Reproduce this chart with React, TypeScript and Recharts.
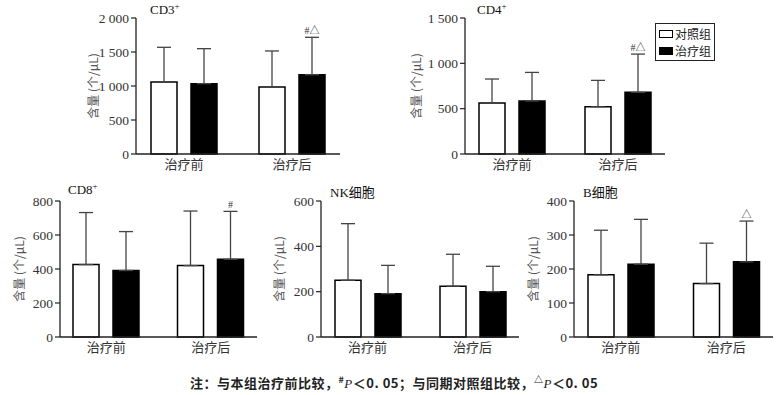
import React from "react";
import { BarChart, Bar, XAxis, YAxis, ErrorBar, LabelList, Legend } from "recharts";

const categories = ["治疗前", "治疗后"];

// mean and SD (upper error only)
const cd3Control = [1059, 985];
const cd3ControlSd = [510, 530];
const cd3Treat = [1034, 1166];
const cd3TreatSd = [515, 550];

const cd4Control = [562, 521];
const cd4ControlSd = [265, 291];
const cd4Treat = [584, 680];
const cd4TreatSd = [316, 422];

const cd8Control = [426, 420];
const cd8ControlSd = [306, 321];
const cd8Treat = [391, 457];
const cd8TreatSd = [229, 282];

const nkControl = [250, 224];
const nkControlSd = [250, 141];
const nkTreat = [191, 200];
const nkTreatSd = [125, 112];

const bControl = [183, 157];
const bControlSd = [131, 119];
const bTreat = [214, 221];
const bTreatSd = [132, 120];

const cd3Marks = ["", "#△"];
const cd4Marks = ["", "#△"];
const cd8Marks = ["", "#"];
const nkMarks = ["", ""];
const bMarks = ["", "△"];

const cd3Ticks = [0, 500, 1000, 1500, 2000];
const cd4Ticks = [0, 500, 1000, 1500];
const cd8Ticks = [0, 200, 400, 600, 800];
const nkTicks = [0, 200, 400, 600];
const bTicks = [0, 100, 200, 300, 400];

const SERIF = "Liberation Serif, Noto Sans CJK SC, serif";
const CJK = "Noto Sans CJK SC, Liberation Serif, serif";

const fmt = (n: number) =>
  n >= 1000 ? `${Math.floor(n / 1000)} ${String(n % 1000).padStart(3, "0")}` : String(n);

function buildRows(c: number[], cs: number[], t: number[], ts: number[], marks: string[]) {
  return categories.map((cat, i) => ({
    cat,
    control: c[i],
    controlErr: [0, cs[i]],
    treat: t[i],
    treatErr: [0, ts[i]],
    treatTop: t[i] + ts[i],
    mark: marks[i],
  }));
}

type PanelProps = {
  title: React.ReactNode;
  rows: ReturnType<typeof buildRows>;
  ticks: number[];
  left: number;
  top: number;
  width: number;
  margin: { top: number; right: number; bottom: number; left: number };
  labelGap: number;
  titleX: number;
  showLegend?: boolean;
};

function LegendBox() {
  const items = [
    { name: "对照组", fill: "#fff" },
    { name: "治疗组", fill: "#000" },
  ];
  return (
    <div
      style={{
        border: "1.3px solid #222",
        padding: "1px 3px 1px 3px",
        background: "#fff",
        fontFamily: CJK,
        fontSize: 12,
        color: "#222",
        lineHeight: "17px",
      }}
    >
      {items.map((it) => (
        <div key={it.name} style={{ display: "flex", alignItems: "center" }}>
          <span
            style={{
              display: "inline-block",
              width: 12,
              height: 6,
              border: "1.2px solid #000",
              background: it.fill,
              marginRight: 2,
            }}
          />
          {it.name}
        </div>
      ))}
    </div>
  );
}

function Panel(p: PanelProps) {
  const height = 180;
  return (
    <div style={{ position: "absolute", left: p.left, top: p.top, width: p.width, height }}>
      <div
        style={{
          position: "absolute",
          left: p.titleX,
          top: 2,
          fontFamily: SERIF,
          fontSize: 13,
          color: "#111",
          whiteSpace: "nowrap",
        }}
      >
        {p.title}
      </div>
      <BarChart
        width={p.width}
        height={height}
        data={p.rows}
        margin={p.margin}
        barSize={26}
        barGap={14}
      >
        <XAxis
          dataKey="cat"
          tickLine={false}
          axisLine={{ stroke: "#222", strokeWidth: 1.3 }}
          padding={{ left: -6, right: -6 }}
          tick={{ fontFamily: CJK, fontSize: 13, fill: "#333" }}
          tickSize={4}
          tickMargin={2}
          height={20}
        />
        <YAxis
          domain={[p.ticks[0], p.ticks[p.ticks.length - 1]]}
          ticks={p.ticks}
          interval={0}
          tickFormatter={fmt}
          width={40}
          tickSize={5}
          tickMargin={2}
          tickLine={{ stroke: "#222", strokeWidth: 1.2 }}
          axisLine={{ stroke: "#222", strokeWidth: 1.3 }}
          tick={{ fontFamily: SERIF, fontSize: 13.5, fill: "#333" }}
          label={{
            content: (props: any) => {
              const vb = props.viewBox;
              const cx = vb.x + vb.width - p.labelGap;
              const cy = vb.y + vb.height / 2;
              return (
                <text
                  x={cx}
                  y={cy}
                  transform={`rotate(-90, ${cx}, ${cy})`}
                  textAnchor="middle"
                  dominantBaseline="central"
                  fontFamily={CJK}
                  fontSize={12}
                  fill="#555"
                >
                  含量 (个/μL)
                </text>
              );
            },
          }}
        />
        {p.showLegend && (
          <Legend
            layout="horizontal"
            verticalAlign="middle"
            align="center"
            wrapperStyle={{ left: 265, top: 23, width: "auto" }}
            content={() => <LegendBox />}
          />
        )}
        <Bar
          dataKey="control"
          name="对照组"
          fill="#fff"
          stroke="#000"
          strokeWidth={1.5}
          isAnimationActive={false}
        >
          <ErrorBar dataKey="controlErr" width={7} stroke="#444" strokeWidth={1.3} direction="y" />
        </Bar>
        <Bar
          dataKey="treat"
          name="治疗组"
          fill="#000"
          stroke="#000"
          strokeWidth={1.5}
          isAnimationActive={false}
        >
          <ErrorBar dataKey="treatErr" width={7} stroke="#444" strokeWidth={1.3} direction="y" />
          <LabelList
            dataKey="mark"
            content={(lp: any) => {
              const row = p.rows[lp.index];
              if (!row || !row.mark) return null;
              const base = lp.y + lp.height;
              const top = base - (row.treatTop / row.treat) * lp.height;
              return (
                <text
                  x={lp.x + lp.width / 2}
                  y={top - 3}
                  textAnchor="middle"
                  fontFamily={SERIF}
                  fontSize={10}
                  fill="#333"
                >
                  {row.mark}
                </text>
              );
            }}
          />
        </Bar>
      </BarChart>
    </div>
  );
}

const sup = (s: string) => (
  <span style={{ fontSize: 9, verticalAlign: "super", lineHeight: 0 }}>{s}</span>
);

export default function App() {
  return (
    <div style={{ position: "absolute", left: 0, top: 0, width: 780, height: 395, background: "#fff" }}>
      <Panel
        title={<>CD3{sup("+")}</>}
        rows={buildRows(cd3Control, cd3ControlSd, cd3Treat, cd3TreatSd, cd3Marks)}
        ticks={cd3Ticks}
        left={0}
        top={0}
        width={390}
        margin={{ top: 18, right: 50, bottom: 6, left: 96 }}
        labelGap={44}
        titleX={150}
      />
      <Panel
        title={<>CD4{sup("+")}</>}
        rows={buildRows(cd4Control, cd4ControlSd, cd4Treat, cd4TreatSd, cd4Marks)}
        ticks={cd4Ticks}
        left={390}
        top={0}
        width={390}
        margin={{ top: 18, right: 115, bottom: 6, left: 35 }}
        labelGap={50}
        titleX={87}
        showLegend
      />
      <Panel
        title={<>CD8{sup("+")}</>}
        rows={buildRows(cd8Control, cd8ControlSd, cd8Treat, cd8TreatSd, cd8Marks)}
        ticks={cd8Ticks}
        left={0}
        top={180}
        width={270}
        margin={{ top: 21, right: 13, bottom: 3, left: 20 }}
        labelGap={42}
        titleX={68}
      />
      <Panel
        title="NK细胞"
        rows={buildRows(nkControl, nkControlSd, nkTreat, nkTreatSd, nkMarks)}
        ticks={nkTicks}
        left={270}
        top={180}
        width={250}
        margin={{ top: 21, right: 1, bottom: 3, left: 11 }}
        labelGap={43}
        titleX={60}
      />
      <Panel
        title="B细胞"
        rows={buildRows(bControl, bControlSd, bTreat, bTreatSd, bMarks)}
        ticks={bTicks}
        left={520}
        top={180}
        width={260}
        margin={{ top: 21, right: 7, bottom: 3, left: 14 }}
        labelGap={42}
        titleX={63}
      />
      <div
        style={{
          position: "absolute",
          left: 190,
          top: 373,
          fontFamily: CJK,
          fontWeight: "bold",
          fontSize: 13,
          letterSpacing: 0.5,
          color: "#222",
          whiteSpace: "nowrap",
        }}
      >
        注：与本组治疗前比较，{sup("#")}
        <i style={{ fontFamily: SERIF, fontWeight: "normal" }}>P</i>＜0. 05；与同期对照组比较，{sup("△")}
        <i style={{ fontFamily: SERIF, fontWeight: "normal" }}>P</i>＜0. 05
      </div>
    </div>
  );
}
